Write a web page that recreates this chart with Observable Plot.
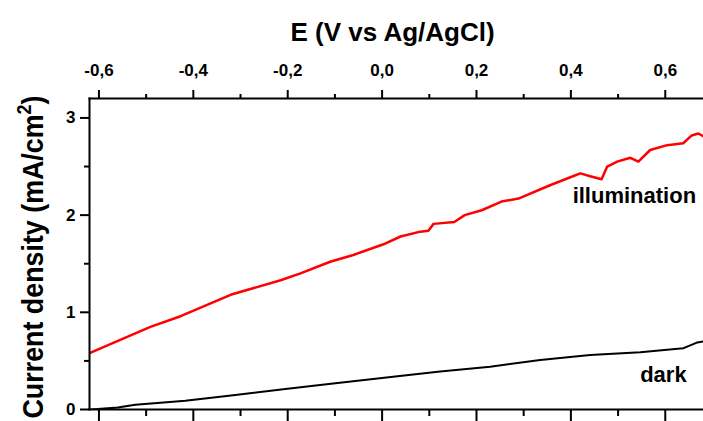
<!DOCTYPE html>
<html>
<head>
<meta charset="utf-8">
<script src="https://cdn.jsdelivr.net/npm/d3@7"></script>
<script src="https://cdn.jsdelivr.net/npm/@observablehq/plot@0.6"></script>
<style>
  html, body { margin: 0; padding: 0; background: #fff; }
  svg { display: block; }
</style>
</head>
<body>
<div id="chart"></div>
<script>
// Illumination (red) curve: potential E (V vs Ag/AgCl) and current density (mA/cm²)
const illumE = [-0.620, -0.491, -0.427, -0.321, -0.215, -0.173, -0.110, -0.061, 0.003, 0.039, 0.081, 0.098, 0.109, 0.153, 0.175, 0.211, 0.253, 0.289, 0.357, 0.399, 0.420, 0.441, 0.465, 0.477, 0.498, 0.526, 0.543, 0.568, 0.604, 0.638, 0.656, 0.670, 0.681];
const illumJ = [0.58, 0.85, 0.96, 1.18, 1.33, 1.40, 1.52, 1.59, 1.70, 1.78, 1.83, 1.84, 1.91, 1.93, 2.00, 2.05, 2.14, 2.17, 2.31, 2.39, 2.43, 2.40, 2.37, 2.50, 2.55, 2.59, 2.55, 2.67, 2.72, 2.74, 2.82, 2.84, 2.81];
// Dark (black) curve
const darkE = [-0.617, -0.560, -0.523, -0.417, -0.311, -0.205, -0.099, 0.028, 0.123, 0.229, 0.335, 0.441, 0.547, 0.638, 0.653, 0.668, 0.681];
const darkJ = [0.00, 0.02, 0.05, 0.09, 0.15, 0.21, 0.27, 0.34, 0.39, 0.44, 0.51, 0.56, 0.59, 0.63, 0.66, 0.69, 0.70];

const xMajorTicks = [-0.6, -0.4, -0.2, 0.0, 0.2, 0.4, 0.6];
const xMinorTicks = [-0.5, -0.3, -0.1, 0.1, 0.3, 0.5];
const yMajorTicks = [0, 1, 2, 3];
const yMinorTicks = [0.5, 1.5, 2.5];

const xTitle = "E (V vs Ag/AgCl)";
const yTitleParts = ["Current density (mA/cm", "2", ")"];
const seriesLabels = ["illumination", "dark"];

const illum = illumE.map((e, i) => ({E: e, J: illumJ[i]}));
const dark = darkE.map((e, i) => ({E: e, J: darkJ[i]}));
const fmt = d => d.toFixed(1).replace(".", ",");
const none = () => "";

const svg = Plot.plot({
  width: 703,
  height: 421,
  marginTop: 98,
  marginBottom: 12,
  marginLeft: 89,
  marginRight: 0,
  x: {domain: [-0.62, 0.681]},
  y: {domain: [0, 3.2]},
  style: {fontFamily: "'Liberation Sans', Arial, sans-serif", fontWeight: "bold", fontSize: "17px", color: "#000", background: "#fff"},
  marks: [
    Plot.line(dark, {x: "E", y: "J", stroke: "#000", strokeWidth: 2, clip: true}),
    Plot.line(illum, {x: "E", y: "J", stroke: "#ff0000", strokeWidth: 2.5, clip: true}),
    Plot.frame({anchor: "top", strokeWidth: 2}),
    Plot.frame({anchor: "bottom", strokeWidth: 2}),
    Plot.frame({anchor: "left", strokeWidth: 2}),
    Plot.axisX({anchor: "top", ticks: xMajorTicks, tickSize: 9, tickPadding: 14, tickFormat: fmt, label: null, strokeWidth: 2}),
    Plot.axisX({anchor: "top", ticks: xMinorTicks, tickSize: 5, tickFormat: none, label: null, strokeWidth: 2}),
    Plot.axisX({anchor: "bottom", ticks: xMajorTicks, tickSize: 14, tickFormat: none, label: null, strokeWidth: 2}),
    Plot.axisX({anchor: "bottom", ticks: xMinorTicks, tickSize: 7, tickFormat: none, label: null, strokeWidth: 2}),
    Plot.axisY({anchor: "left", ticks: yMajorTicks, tickSize: 9, tickPadding: 5, tickFormat: d => String(d), label: null, strokeWidth: 2}),
    Plot.axisY({anchor: "left", ticks: yMinorTicks, tickSize: 5, tickFormat: none, label: null, strokeWidth: 2}),
    Plot.text([xTitle], {frameAnchor: "top", lineAnchor: "bottom", textAnchor: "middle", dx: -4, dy: -58, fontSize: 26, fontWeight: "bold"}),
    Plot.text([yTitleParts.join("")], {frameAnchor: "left", lineAnchor: "bottom", textAnchor: "middle", rotate: -90, dx: -47, dy: 3, fontSize: 30, fontWeight: "bold", className: "ylab"}),
    Plot.text([seriesLabels[0]], {x: () => 0.5345, y: () => 2.12, lineAnchor: "bottom", fontSize: 22, fontWeight: "bold"}),
    Plot.text([seriesLabels[1]], {x: () => 0.596, y: () => 0.278, lineAnchor: "bottom", fontSize: 22, fontWeight: "bold"})
  ]
});
svg.querySelectorAll(".ylab text").forEach(t => {
  t.textContent = "";
  const a = d3.select(t);
  a.append("tspan").text(yTitleParts[0]);
  a.append("tspan").attr("font-size", 20).attr("dy", -12).text(yTitleParts[1]);
  a.append("tspan").attr("dy", 12).text(yTitleParts[2]);
  t.setAttribute("textLength", 323);
  t.setAttribute("lengthAdjust", "spacingAndGlyphs");
});
document.getElementById("chart").appendChild(svg);
</script>
</body>
</html>
